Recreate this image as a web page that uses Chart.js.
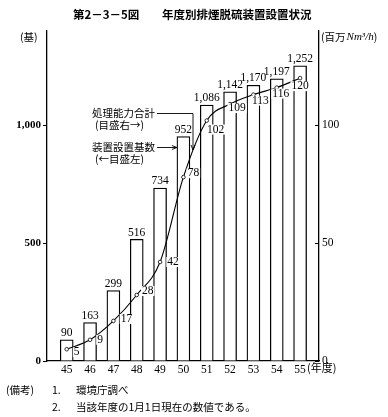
<!DOCTYPE html>
<html>
<head>
<meta charset="utf-8">
<script src="https://cdn.jsdelivr.net/npm/chart.js@4.4.1/dist/chart.umd.min.js"></script>
<style>
  html, body { margin: 0; padding: 0; background: #fff; }
</style>
</head>
<body>
<canvas id="myChart" width="388" height="417"></canvas>
<script>
// 年度 (昭和)
var years = [45, 46, 47, 48, 49, 50, 51, 52, 53, 54, 55];
// 装置設置基数 (基, left scale)
var units = [90, 163, 299, 516, 734, 952, 1086, 1142, 1170, 1197, 1252];
// 処理能力合計 (百万Nm3/h, right scale)
var capacity = [5, 9, 17, 28, 42, 78, 102, 109, 113, 116, 120];
var leftTicks = [0, 500, 1000];
var rightTicks = [0, 50, 100];

// where each capacity label sits relative to its point
var capOffsets = [[10, 3], [10, 0], [13, -2], [11, -4], [13, 0], [10, -4], [9, 9], [7, 4], [7, 6], [4, 6], [0, 8]];

var SERIF = '"Liberation Serif", "Noto Sans CJK JP", serif';
var JP = '"Noto Sans CJK JP", sans-serif';

var decor = {
  id: 'decor',
  afterDatasetsDraw: function (chart) {
    var ctx = chart.ctx;
    var area = chart.chartArea;
    var xs = chart.scales.x;
    var y2 = chart.scales.y2;
    ctx.save();
    ctx.fillStyle = '#000';
    ctx.strokeStyle = '#000';

    // bar values
    ctx.font = '11.5px ' + SERIF;
    ctx.textAlign = 'center';
    ctx.textBaseline = 'bottom';
    chart.getDatasetMeta(1).data.forEach(function (bar, i) {
      ctx.fillText(units[i].toLocaleString('en-US'), bar.x, bar.y - 1);
    });

    // capacity values
    ctx.textBaseline = 'middle';
    chart.getDatasetMeta(0).data.forEach(function (pt, i) {
      var t = String(capacity[i]);
      var x = pt.x + capOffsets[i][0];
      var y = pt.y + capOffsets[i][1];
      var w = ctx.measureText(t).width;
      ctx.fillStyle = '#fff';
      ctx.fillRect(x - w / 2 - 1, y - 5, w + 2, 10);
      ctx.fillStyle = '#000';
      ctx.fillText(t, x, y);
    });

    // inside ticks on the right axis
    ctx.lineWidth = 1;
    rightTicks.forEach(function (v) {
      var y = Math.round(y2.getPixelForValue(v)) + 0.5;
      ctx.beginPath();
      ctx.moveTo(area.right - 4, y);
      ctx.lineTo(area.right, y);
      ctx.stroke();
    });

    // legend notes with leader lines
    ctx.font = '10.5px ' + JP;
    ctx.textAlign = 'left';
    ctx.fillText('処理能力合計', 92, 113);
    ctx.fillText('(目盛右→)', 95, 125);
    ctx.fillText('装置設置基数', 92, 147);
    ctx.fillText('(←目盛左)', 95, 159);

    ctx.lineWidth = 0.9;
    var lx = 193;
    ctx.beginPath();
    ctx.moveTo(157, 113.5);
    ctx.lineTo(lx, 113.5);
    ctx.lineTo(lx, 150);
    ctx.stroke();
    ctx.beginPath();
    ctx.moveTo(lx - 2, 145);
    ctx.lineTo(lx, 150);
    ctx.lineTo(lx + 2, 145);
    ctx.stroke();

    var bx = xs.getPixelForValue(50) - 6.5;
    ctx.beginPath();
    ctx.moveTo(157, 147.5);
    ctx.lineTo(bx, 147.5);
    ctx.stroke();
    ctx.beginPath();
    ctx.moveTo(bx - 5, 145.5);
    ctx.lineTo(bx, 147.5);
    ctx.lineTo(bx - 5, 149.5);
    ctx.stroke();

    ctx.restore();
  },
  afterDraw: function (chart) {
    var ctx = chart.ctx;
    var xs = chart.scales.x;
    ctx.save();
    ctx.fillStyle = '#000';
    ctx.textBaseline = 'middle';

    // title
    ctx.font = 'bold 11.5px ' + JP;
    ctx.textAlign = 'left';
    ctx.fillText('第2－3－5図', 73, 15);
    ctx.fillText('年度別排煙脱硫装置設置状況', 162, 15);

    // axis units
    ctx.font = '10.5px ' + JP;
    ctx.fillText('(基)', 20, 37);
    ctx.fillText('(百万', 321, 37);
    var wStart = 321 + ctx.measureText('(百万').width;
    ctx.font = 'italic 11px ' + SERIF;
    ctx.fillText('Nm³/h', wStart + 1, 37);
    var wEnd = wStart + 1 + ctx.measureText('Nm³/h').width;
    ctx.font = '10.5px ' + JP;
    ctx.fillText(')', wEnd, 37);

    // x unit
    ctx.font = '11px ' + JP;
    ctx.fillText('(年度)', xs.getPixelForValue(55) + 7, 368);

    // notes
    ctx.font = '10.5px ' + JP;
    ctx.fillText('(備考)', 6, 390);
    ctx.fillText('1.', 52, 390);
    ctx.fillText('環境庁調べ', 76, 390);
    ctx.fillText('2.', 52, 407);
    ctx.fillText('当該年度の1月1日現在の数値である。', 76, 407);
    ctx.restore();
  }
};

var ctx = document.getElementById('myChart').getContext('2d');
var myChart = new Chart(ctx, {
  type: 'bar',
  data: {
    datasets: [{
      type: 'line',
      label: '処理能力合計',
      yAxisID: 'y2',
      data: years.map(function (y, i) { return { x: y, y: capacity[i] }; }),
      borderColor: '#000',
      borderWidth: 1.1,
      pointRadius: 1.8,
      pointBackgroundColor: '#fff',
      pointBorderColor: '#000',
      pointBorderWidth: 0.8,
      cubicInterpolationMode: 'monotone',
      order: 0
    }, {
      type: 'bar',
      label: '装置設置基数',
      yAxisID: 'y',
      data: years.map(function (y, i) { return { x: y, y: units[i] }; }),
      backgroundColor: '#fff',
      borderColor: '#000',
      borderWidth: 1.3,
      barThickness: 13,
      order: 1
    }]
  },
  options: {
    responsive: false,
    devicePixelRatio: 1,
    animation: false,
    layout: { padding: { top: 31, left: 0, right: 0, bottom: 0 } },
    plugins: { legend: { display: false }, tooltip: { enabled: false } },
    scales: {
      x: {
        type: 'linear',
        offset: false,
        min: 44.155,
        max: 55.81,
        afterBuildTicks: function (s) { s.ticks = years.map(function (v) { return { value: v }; }); },
        afterFit: function (s) { s.height = 56; },
        grid: { display: false, drawTicks: false, tickLength: 0 },
        border: { display: true, color: '#000', width: 1.3 },
        ticks: {
          autoSkip: false,
          maxRotation: 0,
          padding: 2,
          color: '#000',
          font: { family: SERIF, size: 11.5 },
          callback: function (v) { return String(v); }
        }
      },
      y: {
        position: 'left',
        min: 0,
        max: 1400,
        afterBuildTicks: function (s) { s.ticks = leftTicks.map(function (v) { return { value: v }; }); },
        afterFit: function (s) { s.width = 47; },
        grid: { drawOnChartArea: false, drawTicks: true, tickLength: 4, color: '#000', lineWidth: 1 },
        border: { display: true, color: '#000', width: 1.3 },
        ticks: {
          padding: 2,
          color: '#000',
          font: { family: SERIF, size: 11, weight: 'bold' },
          callback: function (v) { return v.toLocaleString('en-US'); }
        }
      },
      y2: {
        position: 'right',
        min: 0,
        max: 140,
        afterBuildTicks: function (s) { s.ticks = rightTicks.map(function (v) { return { value: v }; }); },
        afterFit: function (s) { s.width = 69; },
        grid: { display: false, drawTicks: false },
        border: { display: true, color: '#000', width: 1.3 },
        ticks: {
          padding: 3,
          color: '#000',
          font: { family: SERIF, size: 11.5 },
          callback: function (v) { return String(v); }
        }
      }
    }
  },
  plugins: [decor]
});
</script>
</body>
</html>
